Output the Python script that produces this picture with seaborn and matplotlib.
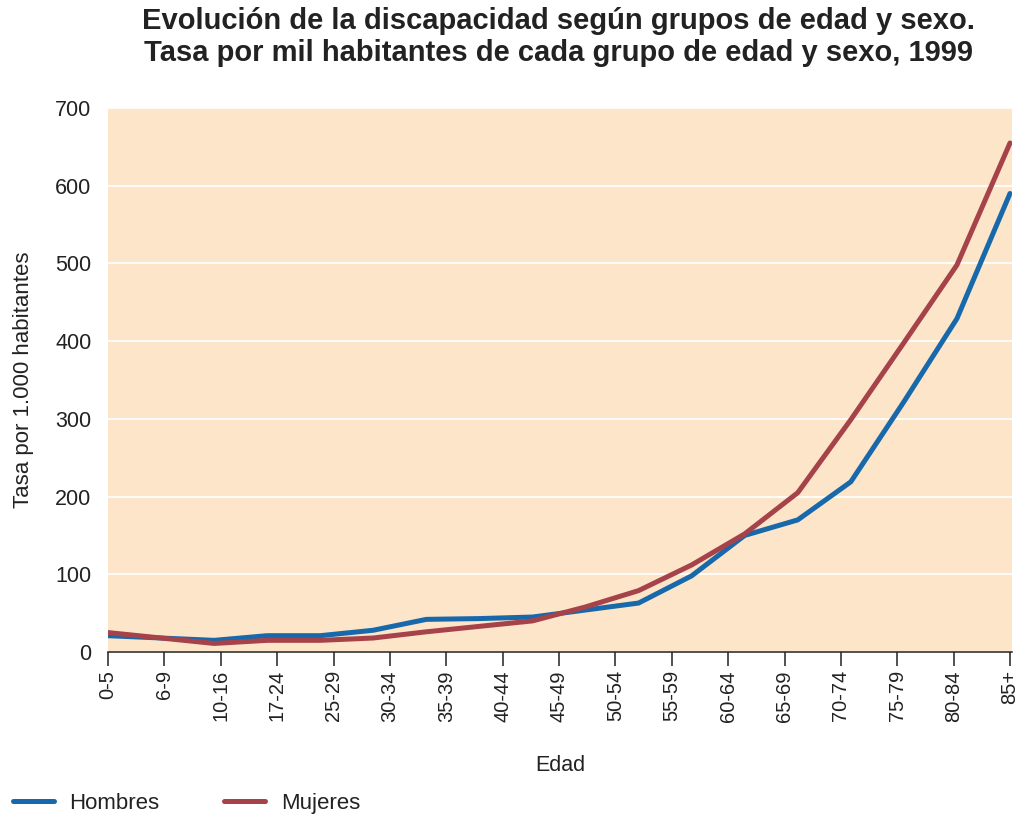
import numpy as np
import pandas as pd
import matplotlib
matplotlib.use("Agg")
import matplotlib.pyplot as plt
import seaborn as sns
from matplotlib.lines import Line2D

# --- data ---
tick_labels = ["0-5", "6-9", "10-16", "17-24", "25-29", "30-34", "35-39", "40-44",
               "45-49", "50-54", "55-59", "60-64", "65-69", "70-74", "75-79",
               "80-84", "85+"]
hombres = [21, 18, 15, 21, 21, 28, 42, 43, 45, 54, 63, 98, 150, 170, 219, 322, 429, 590]
mujeres = [25, 18, 11, 15, 15, 18, 26, 33, 40, 58, 79, 112, 152, 205, 299, 398, 498, 655]
series_names = ["Hombres", "Mujeres"]
colors = {"Hombres": "#1869ab", "Mujeres": "#a6434a"}

title = ("Evolución de la discapacidad según grupos de edad y sexo.\n"
         "Tasa por mil habitantes de cada grupo de edad y sexo, 1999")

# the series hold one point more than the axis has tick labels; they are spread over the same span
n_ticks = len(tick_labels)
pos = np.linspace(0, n_ticks - 1, len(hombres))
df = pd.concat([
    pd.DataFrame({"pos": pos, "valor": hombres, "sexo": series_names[0]}),
    pd.DataFrame({"pos": pos, "valor": mujeres, "sexo": series_names[1]}),
])

sns.set_theme(style="white")
plt.rcParams["font.family"] = ["Liberation Sans", "DejaVu Sans"]

fig = plt.figure(figsize=(10.19, 8.16), dpi=100)
ax = fig.add_axes([108 / 1019, 1 - 652 / 816, (1012 - 108) / 1019, (652 - 108) / 816])
ax.set_facecolor("#fde5c9")

sns.lineplot(data=df, x="pos", y="valor", hue="sexo", palette=colors,
             linewidth=3.6, ax=ax, legend=False, zorder=3)

ax.set_xlim(0, (n_ticks - 1) * (1012 - 108) / (1010 - 108))
ax.set_ylim(0, 700)
ax.set_yticks(np.arange(0, 701, 100))
ax.set_xticks(np.arange(n_ticks))
ax.set_xticklabels(tick_labels, rotation=90, fontsize=14.5, color="#222222")
ax.tick_params(axis="y", length=0, pad=12, labelsize=15.5, labelcolor="#222222")
ax.tick_params(axis="x", direction="out", length=10, width=1.1, color="#222222",
               pad=3, bottom=True)
ax.grid(axis="y", color="white", linewidth=1.3)
ax.grid(axis="x", visible=False)
ax.set_axisbelow(True)
for s in ["top", "right", "left"]:
    ax.spines[s].set_visible(False)
ax.spines["bottom"].set_color("#222222")
ax.spines["bottom"].set_linewidth(1.1)

ax.set_xlabel("Edad", fontsize=15.5, color="#222222", labelpad=24)
ax.set_ylabel("Tasa por 1.000 habitantes", fontsize=16, color="#222222", labelpad=15)

fig.text(0.548, 0.991, title, ha="center", va="top", fontsize=21, fontweight="bold",
         color="#222222", linespacing=1.17)

handles = [Line2D([0], [0], color=colors[n], linewidth=3.6) for n in series_names]
fig.legend(handles, series_names, loc="lower left", bbox_to_anchor=(-0.007, -0.022),
           ncol=2, frameon=False, fontsize=16, handlelength=1.85, handletextpad=0.7,
           columnspacing=2.9, labelcolor="#222222")

fig.savefig("out.png", dpi=100)
